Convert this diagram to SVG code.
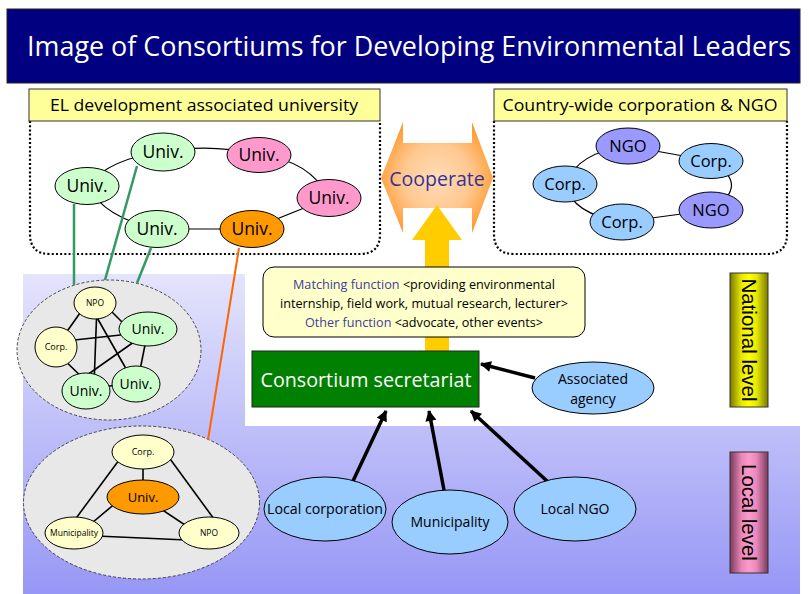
<svg xmlns="http://www.w3.org/2000/svg" width="809" height="594" viewBox="0 0 809 594">
<style>
text{font-family:"Open Sans","Noto Sans",sans-serif;fill:#000;text-anchor:middle}
.n{stroke:#000;stroke-width:1}
.g{fill:#ccffcc}.p{fill:#ff99cc}.o{fill:#ff9900}.y{fill:#ffffcc}.b{fill:#99ccff}.v{fill:#9999ff}
.ln{stroke:#000;stroke-width:1.6;fill:none}
.lnb{stroke:#000;stroke-width:1.2;fill:none}
.ar{stroke:#000;stroke-width:3.5;fill:none;marker-end:url(#ah)}
.lab{fill:#ffff99;stroke:#333;stroke-width:1}
.dot{fill:none;stroke:#000;stroke-width:2.2;stroke-dasharray:2 2.2}
.dash{fill:#e8e8e8;stroke:#444;stroke-width:1;stroke-dasharray:3 2}
.t17{font-size:17.5px}.t16{font-size:16.5px}
.blue{fill:#404099}
.bar{font-family:"Liberation Sans",Arial,sans-serif;font-size:20.5px}
</style>
<defs>
<linearGradient id="bg" x1="0" y1="274" x2="0" y2="594" gradientUnits="userSpaceOnUse">
<stop offset="0" stop-color="#e4e4fc"/><stop offset="1" stop-color="#9797f6"/>
</linearGradient>
<radialGradient id="coop" cx="437" cy="178" r="62" gradientUnits="userSpaceOnUse">
<stop offset="0" stop-color="#ffdcb8"/><stop offset="0.55" stop-color="#ffc890"/><stop offset="1" stop-color="#ff9a2e"/>
</radialGradient>
<linearGradient id="yb" x1="0" y1="0" x2="1" y2="0">
<stop offset="0" stop-color="#7a7a00"/><stop offset="0.3" stop-color="#e8e800"/><stop offset="0.5" stop-color="#ffff00"/><stop offset="0.7" stop-color="#e8e800"/><stop offset="1" stop-color="#7a7a00"/>
</linearGradient>
<linearGradient id="pb" x1="0" y1="0" x2="1" y2="0">
<stop offset="0" stop-color="#7a3a5a"/><stop offset="0.3" stop-color="#e888b8"/><stop offset="0.5" stop-color="#ff99cc"/><stop offset="0.7" stop-color="#e888b8"/><stop offset="1" stop-color="#7a3a5a"/>
</linearGradient>
<marker id="ah" viewBox="0 0 10 10" refX="9" refY="5" markerWidth="12" markerHeight="11" markerUnits="userSpaceOnUse" orient="auto">
<path d="M0,0 L10,5 L0,10 z" fill="#000"/>
</marker>
</defs>

<rect x="0" y="0" width="809" height="594" fill="#fff"/>
<rect x="23" y="274" width="777" height="320" fill="url(#bg)"/>
<rect x="245" y="260" width="555" height="166" fill="#fff"/>

<g id="title">
<rect x="7" y="9" width="793" height="74" fill="#000080" stroke="#222" stroke-width="1"/>
<text x="409" y="56" style="font-size:27px;fill:#fff" textLength="764" lengthAdjust="spacingAndGlyphs">Image of Consortiums for Developing Environmental Leaders</text>
</g>

<g id="university-group">
<path class="dot" d="M30,121 V234 Q30,254 50,254 H360 Q380,254 380,234 V121"/>
<rect class="lab" x="29" y="89" width="351" height="32"/>
<text x="204" y="111" style="font-size:16px" textLength="308" lengthAdjust="spacingAndGlyphs">EL development associated university</text>
</g>

<g id="corporation-group">
<path class="dot" d="M494,121 V234 Q494,254 514,254 H767 Q787,254 787,234 V121"/>
<rect class="lab" x="494" y="89" width="293" height="32"/>
<text x="640" y="111" style="font-size:16px" textLength="275" lengthAdjust="spacingAndGlyphs">Country-wide corporation &amp; NGO</text>
</g>

<g id="local-background">
<ellipse class="dash" cx="109" cy="350" rx="92" ry="70"/>
<ellipse class="dash" cx="141.5" cy="502.5" rx="118" ry="76.5"/>
</g>

<g id="cooperate">
<polygon points="381,178 403,122 403,143 472,143 472,122 493,178 472,233 472,208 403,208 403,233" fill="url(#coop)"/>
<text x="437" y="186" class="blue" style="font-size:19.5px;fill:#333399">Cooperate</text>
</g>

<g id="connectors">
<path class="lnb" d="M87,186 Q110,158 163,152"/>
<path class="lnb" d="M163,152 Q211,143 259,155"/>
<path class="lnb" d="M259,155 Q310,160 329,198"/>
<path class="lnb" d="M329,198 L252,229"/>
<path class="lnb" d="M252,229 L157,229"/>
<path class="lnb" d="M157,229 Q105,218 87,186"/>
<path class="lnb" d="M628,146 L711,161"/>
<path class="lnb" d="M711,161 Q752,185 711,210"/>
<path class="lnb" d="M711,210 L622,222"/>
<path class="lnb" d="M622,222 Q572,214 565,184"/>
<path class="lnb" d="M565,184 Q578,152 628,146"/>
<line x1="74" y1="204" x2="74" y2="285" stroke="#339966" stroke-width="2.5"/>
<line x1="137" y1="166" x2="105" y2="280" stroke="#339966" stroke-width="2.5"/>
<line x1="151" y1="248" x2="137" y2="283" stroke="#339966" stroke-width="2.5"/>
<line x1="239" y1="248" x2="208" y2="440" stroke="#ff6600" stroke-width="2"/>
<line class="ln" x1="92" y1="296" x2="56" y2="347"/>
<line class="ln" x1="104" y1="304" x2="140" y2="340"/>
<line class="ln" x1="97" y1="305" x2="94" y2="385"/>
<line class="ln" x1="91" y1="307" x2="129" y2="374"/>
<line class="ln" x1="56" y1="342" x2="148" y2="332"/>
<line class="ln" x1="57" y1="353" x2="88" y2="383"/>
<line class="ln" x1="148" y1="332" x2="80" y2="380"/>
<line class="ln" x1="147" y1="335" x2="138" y2="380"/>
<line class="ln" x1="90" y1="388" x2="130" y2="384"/>
<line class="ln" x1="143" y1="452" x2="143" y2="497"/>
<line class="ln" x1="125" y1="452" x2="74" y2="521"/>
<line class="ln" x1="165" y1="452" x2="214" y2="519"/>
<line class="ln" x1="130" y1="491" x2="80" y2="533"/>
<line class="ln" x1="143" y1="497" x2="200" y2="535"/>
<line class="ln" x1="74" y1="535" x2="209" y2="541"/>
<polygon points="437,205 462,240 449,240 449,352 425,352 425,240 412,240" fill="#ffcc00"/>
<line class="ar" x1="535" y1="378" x2="481" y2="364"/>
<line class="ar" x1="353" y1="481" x2="386" y2="411"/>
<line class="ar" x1="444" y1="490" x2="429" y2="411"/>
<line class="ar" x1="547" y1="481" x2="471" y2="411"/>
</g>

<g id="u1"><ellipse class="n g" cx="87" cy="186" rx="32" ry="18.5"/><text class="t17" x="87" y="192">Univ.</text></g>
<g id="u2"><ellipse class="n g" cx="163" cy="152" rx="32" ry="19"/><text class="t17" x="163" y="158">Univ.</text></g>
<g id="u3"><ellipse class="n p" cx="259" cy="155" rx="32" ry="17.5"/><text class="t17" x="259" y="161">Univ.</text></g>
<g id="u4"><ellipse class="n p" cx="329" cy="198" rx="32" ry="18.5"/><text class="t17" x="329" y="204">Univ.</text></g>
<g id="u5"><ellipse class="n g" cx="157" cy="229" rx="32" ry="18.5"/><text class="t17" x="157" y="235">Univ.</text></g>
<g id="u6"><ellipse class="n o" cx="252" cy="229" rx="32" ry="18.5"/><text class="t17" x="252" y="235">Univ.</text></g>

<g id="c1"><ellipse class="n v" cx="628" cy="146" rx="32" ry="18"/><text class="t16" x="628" y="152">NGO</text></g>
<g id="c2"><ellipse class="n b" cx="711" cy="161" rx="32" ry="17.5"/><text class="t16" x="711" y="167">Corp.</text></g>
<g id="c3"><ellipse class="n b" cx="565" cy="184" rx="32" ry="18"/><text class="t16" x="565" y="190">Corp.</text></g>
<g id="c4"><ellipse class="n b" cx="622" cy="222" rx="32" ry="18"/><text class="t16" x="622" y="228">Corp.</text></g>
<g id="c5"><ellipse class="n v" cx="711" cy="210" rx="32" ry="18"/><text class="t16" x="711" y="216">NGO</text></g>

<g id="l1"><ellipse class="n y" cx="95" cy="303" rx="21" ry="16"/><text x="95" y="306" style="font-size:8.5px">NPO</text></g>
<g id="l2"><ellipse class="n y" cx="56" cy="347" rx="21" ry="20"/><text x="56" y="350" style="font-size:9px">Corp.</text></g>
<g id="l3"><ellipse class="n g" cx="148" cy="329" rx="29" ry="17"/><text x="148" y="334" style="font-size:14px">Univ.</text></g>
<g id="l4"><ellipse class="n g" cx="86" cy="391" rx="24" ry="18"/><text x="86" y="396" style="font-size:14px">Univ.</text></g>
<g id="l5"><ellipse class="n g" cx="136" cy="384" rx="24" ry="18"/><text x="136" y="389" style="font-size:14px">Univ.</text></g>

<g id="m1"><ellipse class="n y" cx="143" cy="452" rx="31" ry="17"/><text x="143" y="455" style="font-size:9px">Corp.</text></g>
<g id="m2"><ellipse class="n o" cx="143" cy="497" rx="36" ry="17"/><text x="143" y="502" style="font-size:13px">Univ.</text></g>
<g id="m3"><ellipse class="n y" cx="74" cy="533" rx="29" ry="16"/><text x="74" y="536" style="font-size:8.5px">Municipality</text></g>
<g id="m4"><ellipse class="n y" cx="209" cy="533" rx="30" ry="16"/><text x="209" y="536" style="font-size:8.5px">NPO</text></g>

<g id="info">
<rect x="263" y="267" width="322" height="70" rx="11" fill="#ffffcc" stroke="#000" stroke-width="1"/>
<text x="424" y="289" style="font-size:12.5px" textLength="262" lengthAdjust="spacingAndGlyphs"><tspan class="blue">Matching function</tspan> &lt;providing environmental</text>
<text x="424" y="308" style="font-size:12.5px" textLength="288" lengthAdjust="spacingAndGlyphs">internship, field work, mutual research, lecturer&gt;</text>
<text x="424" y="327" style="font-size:12.5px" textLength="238" lengthAdjust="spacingAndGlyphs"><tspan class="blue">Other function</tspan> &lt;advocate, other events&gt;</text>
</g>

<g id="secretariat">
<rect x="252" y="351" width="227" height="56" fill="#008000" stroke="#222" stroke-width="1"/>
<text x="366" y="387" style="font-size:20px;fill:#fff" textLength="211" lengthAdjust="spacingAndGlyphs">Consortium secretariat</text>
</g>

<g id="agency">
<ellipse class="n b" cx="593" cy="388" rx="61" ry="26"/>
<text x="593" y="384" style="font-size:14px">Associated</text>
<text x="593" y="404" style="font-size:14px">agency</text>
</g>

<g id="local-corporation"><ellipse class="n b" cx="325" cy="509" rx="61" ry="32"/><text x="325" y="514" style="font-size:14px" textLength="116" lengthAdjust="spacingAndGlyphs">Local corporation</text></g>
<g id="municipality"><ellipse class="n b" cx="450" cy="522" rx="58" ry="32"/><text x="450" y="527" style="font-size:14px">Municipality</text></g>
<g id="local-ngo"><ellipse class="n b" cx="575" cy="509" rx="61" ry="32"/><text x="575" y="514" style="font-size:14px">Local NGO</text></g>

<g id="national-level">
<rect x="730" y="273" width="38" height="134" fill="url(#yb)" stroke="#333" stroke-width="1"/>
<text class="bar" transform="translate(749,340) rotate(90)" y="7">National level</text>
</g>
<g id="local-level">
<rect x="730" y="452" width="38" height="121" fill="url(#pb)" stroke="#333" stroke-width="1"/>
<text class="bar" transform="translate(749,512.5) rotate(90)" y="7">Local level</text>
</g>
</svg>
